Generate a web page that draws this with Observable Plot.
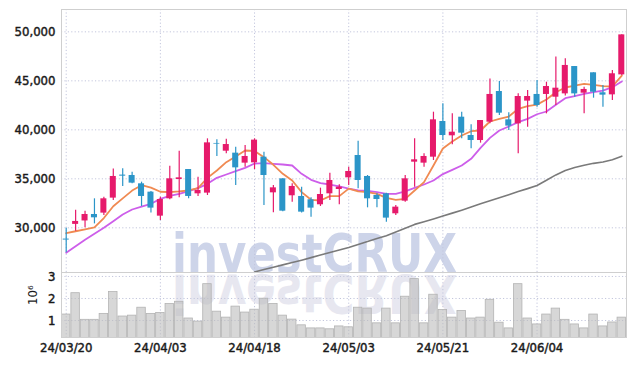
<!DOCTYPE html>
<html><head><meta charset="utf-8">
<script src="https://cdn.jsdelivr.net/npm/d3@7"></script>
<script src="https://cdn.jsdelivr.net/npm/@observablehq/plot@0.6"></script>
<style>
html,body{margin:0;padding:0;background:#fff;}
#wrap{position:relative;width:634px;height:366px;overflow:hidden;}
#wrap > svg{position:absolute;left:0;}
</style></head><body><div id="wrap"></div>
<script>
const dates = ["24/03/20","24/03/21","24/03/22","24/03/25","24/03/26","24/03/27","24/03/28","24/03/29","24/04/01","24/04/02",
"24/04/03","24/04/04","24/04/05","24/04/08","24/04/09","24/04/11","24/04/12","24/04/15","24/04/16","24/04/17",
"24/04/18","24/04/19","24/04/22","24/04/23","24/04/24","24/04/25","24/04/26","24/04/29","24/04/30","24/05/02",
"24/05/03","24/05/07","24/05/08","24/05/09","24/05/10","24/05/13","24/05/14","24/05/16","24/05/17","24/05/20",
"24/05/21","24/05/22","24/05/23","24/05/24","24/05/27","24/05/28","24/05/29","24/05/30","24/05/31","24/06/03",
"24/06/04","24/06/05","24/06/07","24/06/10","24/06/11","24/06/12","24/06/13","24/06/14","24/06/17","24/06/18"];
const opens = [28850,30350,30700,31360,31500,33030,35380,35340,34490,33640,
31190,32960,34930,35950,33470,33540,38610,37820,37620,36600,
36630,37210,33570,35000,33270,33200,32860,32350,33470,33910,
35100,37380,35240,33300,33470,31430,32720,36700,36600,37210,
40850,39390,41290,39420,38910,40780,43910,41020,40610,42930,
43610,43610,43330,43670,46460,43740,45820,43780,43570,45610];
const highs = [29950,31800,31700,32960,33130,35990,36020,35680,34660,33710,
33130,36290,37820,35950,35170,39080,38980,39050,38230,38400,
39080,37720,34320,35000,34490,34150,33060,34050,35580,34390,
36190,38840,35340,33470,33540,32280,35340,39080,37550,41800,
42650,41630,41800,40510,40950,45200,44930,41740,43670,44010,
45030,44860,47420,47250,46460,44350,45820,44520,46060,49700];
const lows = [27450,29650,30000,30400,31260,32790,34220,34490,32180,31500,
30750,32860,33060,32960,33200,33300,37280,37550,34320,36190,
35950,32280,31530,31650,32620,31500,31090,32180,32790,32350,
34320,33980,32040,32040,30580,31260,32620,34150,36190,36870,
38910,38470,39080,38060,38640,40610,41460,39930,37550,40270,
42300,41630,42480,43440,43330,41630,43230,42310,42990,45550];
const closes = [28750,30650,31360,31020,32960,35240,35270,34560,33200,32010,
32890,35000,35100,33200,33810,38670,38540,38500,36120,37280,
38950,35340,34080,31700,34220,31600,32010,33400,34830,34150,
35750,34830,32960,32890,30990,32110,35000,36940,37280,41020,
39420,39760,39660,38910,40950,43610,41700,40380,43400,43400,
42480,44420,44250,46570,43670,44120,43840,43540,45720,49690];
const volumes = [1270000,2240000,1030000,1030000,1300000,2290000,1180000,1220000,1580000,1300000,
1340000,1750000,1850000,1090000,950000,2650000,1400000,1130000,1630000,1360000,
1490000,1990000,1750000,1220000,1040000,780000,640000,640000,600000,730000,
690000,1580000,1540000,870000,1540000,870000,2080000,2880000,870000,2170000,
1480000,1130000,1430000,1090000,1130000,1940000,900000,640000,2650000,1090000,
820000,1270000,1540000,1030000,820000,640000,1270000,730000,910000,1130000];
const ma5 = [29450,29650,29850,30050,31000,32200,33000,33800,34350,34100,
33680,33640,33710,33810,34050,35100,35850,36700,37280,37890,
37850,37210,36430,35510,34830,33640,32860,32790,33230,33230,
34000,33710,33640,33470,33060,32860,32960,33810,34660,36360,
38100,38810,39420,39860,39930,40850,41120,41360,42140,42420,
42570,43100,43840,44320,44520,44690,44590,44460,44420,45540];
const ma20 = [27450,28120,28780,29390,30000,30670,31360,31870,32170,32450,
32950,33270,33470,33740,34050,34490,35100,35440,35780,36120,
36560,36600,36530,36460,36360,35510,34900,34560,34420,34220,
34000,33810,33780,33640,33470,33470,33710,34080,34420,34830,
35480,35920,36360,37040,38160,39180,39930,40340,40780,41120,
41590,41870,42550,43230,43440,43670,43840,44010,44350,44930];
const ma60 = [null,null,null,null,null,null,null,null,null,null,
null,null,null,null,null,null,null,null,null,null,
25500,25740,25980,26220,26460,26700,26960,27220,27480,27740,
28000,28300,28600,28900,29200,29580,29960,30350,30620,30900,
31200,31500,31800,32120,32450,32760,33070,33380,33700,34000,
34320,34850,35400,35850,36150,36380,36580,36720,36950,37310];
const tickDates = ["24/03/20","24/04/03","24/04/18","24/05/03","24/05/21","24/06/04"];
const priceTicks = [30000,35000,40000,45000,50000];
const volumeTicks = [1000000,2000000,3000000];
const volumeUnit = "10⁶";
const watermark = "investCRUX";

const UP = "#e61a6b", DOWN = "#2b95c8";
const rows = dates.map((d,i)=>({date:d, open:opens[i], high:highs[i], low:lows[i], close:closes[i],
  volume:volumes[i], ma5:ma5[i], ma20:ma20[i], ma60:ma60[i]}));
const up = rows.filter(r=>r.close>=r.open), down = rows.filter(r=>r.close<r.open);
const grid = {stroke:"#c3c6dd", strokeDasharray:"1.2,2.2", strokeWidth:1};
const style = {fontFamily:"'DejaVu Sans Condensed', 'DejaVu Sans', sans-serif", fontSize:"13px", color:"#1a1a1a", background:"transparent", overflow:"visible"};

const wrap = document.getElementById("wrap");

// watermark background
const bg = d3.create("svg").attr("width",634).attr("height",366).style("top","0px");
bg.append("text").text(watermark).attr("x",172).attr("y",272)
  .attr("font-family","'DejaVu Sans', sans-serif").attr("font-weight","bold").attr("font-size",53)
  .attr("textLength",285).attr("lengthAdjust","spacingAndGlyphs").attr("fill","#cdd4e9");
bg.append("text").text(watermark).attr("x",172).attr("y",272)
  .attr("transform","translate(0,547) scale(1,-1)")
  .attr("font-family","'DejaVu Sans', sans-serif").attr("font-weight","bold").attr("font-size",53)
  .attr("textLength",285).attr("lengthAdjust","spacingAndGlyphs").attr("fill","#e7e7f0");
wrap.appendChild(bg.node());

const price = Plot.plot({
  width:634, height:272, marginTop:9, marginBottom:0, marginLeft:61, marginRight:8,
  style,
  x:{type:"band", domain:dates, paddingInner:0.36, paddingOuter:0.18, round:false, axis:null},
  y:{domain:[25440,52280], ticks:priceTicks, tickFormat:d3.format(","), tickSize:0, tickPadding:6, label:null},
  marks:[
    Plot.ruleY(priceTicks, grid),
    Plot.ruleX(tickDates, grid),
    Plot.line(rows.filter(r=>r.ma60!=null), {x:"date", y:"ma60", stroke:"#7a7a7a", strokeWidth:1.6}),
    Plot.line(rows, {x:"date", y:"ma20", stroke:"#cd5eea", strokeWidth:1.8}),
    Plot.line(rows, {x:"date", y:"ma5", stroke:"#f08a52", strokeWidth:1.8}),
    Plot.ruleX(up, {x:"date", y1:"low", y2:"high", stroke:UP, strokeWidth:1.2}),
    Plot.ruleX(down, {x:"date", y1:"low", y2:"high", stroke:DOWN, strokeWidth:1.2}),
    Plot.barY(up, {x:"date", y1:"open", y2:"close", fill:UP}),
    Plot.barY(down, {x:"date", y1:"open", y2:"close", fill:DOWN}),
    Plot.frame({stroke:"#cfcfcf"})
  ]
});
price.style.top = "0px";
wrap.appendChild(price);

const vol = Plot.plot({
  width:634, height:94, marginTop:0, marginBottom:29, marginLeft:61, marginRight:8,
  style,
  x:{type:"band", domain:dates, paddingInner:0.1, paddingOuter:0.05, round:false, ticks:tickDates, tickSize:0, tickPadding:5, label:null},
  y:{domain:[227000,3180000], ticks:volumeTicks, tickFormat:d=>String(d/1e6), tickSize:0, tickPadding:6, label:null},
  marks:[
    Plot.ruleY(volumeTicks, grid),
    Plot.ruleX(tickDates, grid),
    Plot.barY(rows, {x:"date", y:"volume", fill:"#bcbcbc", fillOpacity:0.6, stroke:"#b3b3b3", strokeWidth:0.8, clip:true}),
    Plot.text([volumeUnit], {frameAnchor:"left", text:d=>d, rotate:-90, dx:-29, fontSize:13}),
    Plot.frame({stroke:"#cfcfcf"})
  ]
});
vol.style.top = "272px";
wrap.appendChild(vol);

// slightly heavier tick labels, like the reference
for (const svg of [price, vol]) {
  d3.select(svg).selectAll('g[aria-label^="x-axis"] text, g[aria-label^="y-axis"] text')
    .attr("stroke","#1a1a1a").attr("stroke-width",0.45);
}
</script></body></html>
